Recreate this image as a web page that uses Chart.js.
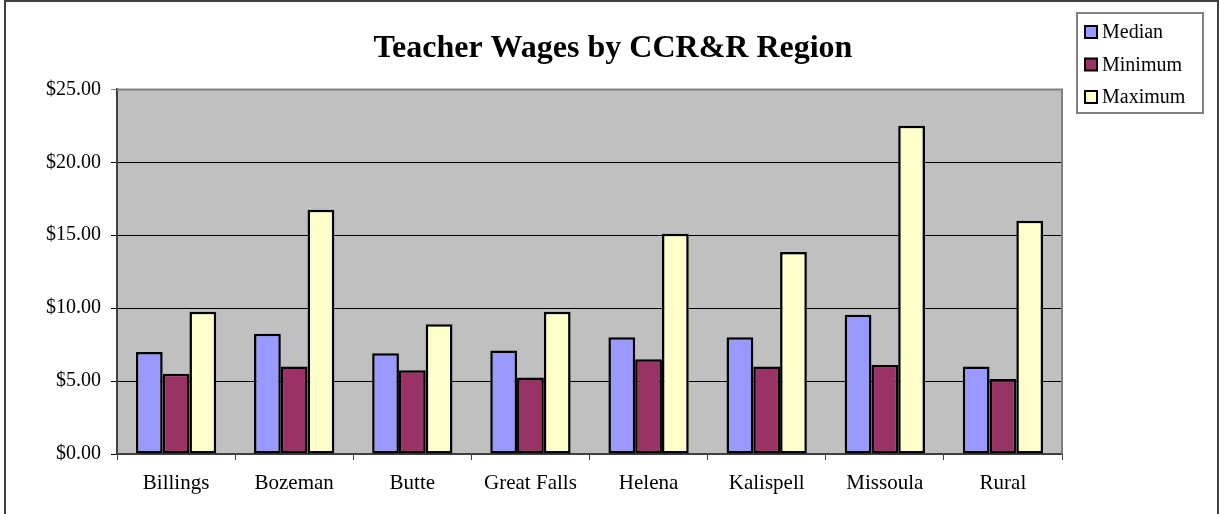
<!DOCTYPE html>
<html>
<head>
<meta charset="utf-8">
<script src="https://cdn.jsdelivr.net/npm/chart.js@4/dist/chart.umd.min.js"></script>
<style>
  html, body { margin: 0; padding: 0; background: #fff; }
  #wrap { width: 1220px; height: 514px; }
</style>
</head>
<body>
<div id="wrap"><canvas id="wages" width="1220" height="514"></canvas></div>
<script>
// ===== DATA =====
const regions = ["Billings", "Bozeman", "Butte", "Great Falls", "Helena", "Kalispell", "Missoula", "Rural"];
const median  = [7.00, 8.25, 6.90, 7.10, 8.00, 8.00, 9.55, 6.00];
const minimum = [5.50, 6.00, 5.75, 5.25, 6.50, 6.00, 6.10, 5.15];
const maximum = [9.75, 16.75, 8.90, 9.75, 15.10, 13.85, 22.50, 16.00];
const yTicks  = [0, 5, 10, 15, 20, 25];

const serif = "'Liberation Serif', 'Times New Roman', serif";

// plot background, outer frame, plot border
const frame = {
    id: 'frame',
    beforeDraw(chart) {
        const { ctx, chartArea: a } = chart;
        ctx.save();
        ctx.fillStyle = '#c0c0c0';
        ctx.fillRect(a.left, a.top, a.right - a.left, a.bottom - a.top);
        ctx.restore();
    },
    afterDraw(chart) {
        const { ctx, chartArea: a } = chart;
        ctx.save();
        // top / right border of plot
        ctx.strokeStyle = '#808080';
        ctx.lineWidth = 2;
        ctx.beginPath();
        ctx.moveTo(a.left, a.top);
        ctx.lineTo(a.right, a.top);
        ctx.lineTo(a.right, a.bottom);
        ctx.stroke();
        // outer frame
        ctx.strokeStyle = '#404040';
        ctx.lineWidth = 2;
        ctx.strokeRect(5, 1, 1213, 530);
        ctx.restore();
    }
};

// legend box drawn from the datasets
const boxLegend = {
    id: 'boxLegend',
    afterDraw(chart) {
        const ctx = chart.ctx;
        ctx.save();
        ctx.strokeStyle = '#808080';
        ctx.lineWidth = 2;
        ctx.fillStyle = '#fff';
        ctx.fillRect(1077, 13, 126, 100);
        ctx.strokeRect(1077, 13, 126, 100);
        ctx.font = "20px " + serif;
        ctx.textBaseline = 'middle';
        chart.data.datasets.forEach((ds, i) => {
            const cy = 32 + i * 32.5;
            ctx.fillStyle = ds.backgroundColor;
            ctx.fillRect(1085, cy - 6, 12, 12);
            ctx.strokeStyle = '#000';
            ctx.lineWidth = 2;
            ctx.strokeRect(1085, cy - 6, 12, 12);
            ctx.fillStyle = '#000';
            ctx.fillText(ds.label, 1102, cy + 1);
        });
        ctx.restore();
    }
};

function makeSet(label, data, color) {
    return {
        label: label,
        data: data,
        backgroundColor: color,
        borderColor: '#000',
        borderWidth: 2.5,
        borderSkipped: false,
        categoryPercentage: 0.68,
        barPercentage: 1.0
    };
}

new Chart(document.getElementById('wages'), {
    type: 'bar',
    data: {
        labels: regions,
        datasets: [
            makeSet('Median', median, '#9999ff'),
            makeSet('Minimum', minimum, '#993366'),
            makeSet('Maximum', maximum, '#ffffcc')
        ]
    },
    options: {
        responsive: false,
        animation: false,
        layout: { padding: { left: 6, right: 0, top: 0, bottom: 0 } },
        plugins: {
            legend: { display: false },
            tooltip: { enabled: false },
            title: {
                display: true,
                text: 'Teacher Wages by CCR&R Region',
                color: '#000',
                font: { family: serif, size: 32, weight: 'bold', lineHeight: 1.2 },
                padding: { top: 30, bottom: 21 }
            }
        },
        scales: {
            x: {
                grid: { offset: true, drawOnChartArea: false, drawTicks: true, tickLength: 6, color: '#404040', lineWidth: 1 },
                border: { color: '#404040', width: 2 },
                ticks: { color: '#000', font: { family: serif, size: 21 }, padding: 11, maxRotation: 0 },
                afterFit(s) { s.height = 60; }
            },
            y: {
                min: 0,
                max: 25,
                afterBuildTicks(s) { s.ticks = yTicks.map(v => ({ value: v })); },
                grid: {
                    color: ctx => (ctx.tick && ctx.tick.value === 25) ? '#808080' : '#000',
                    lineWidth: 1,
                    tickLength: 6,
                    drawTicks: true
                },
                border: { color: '#404040', width: 2 },
                ticks: {
                    color: '#000',
                    font: { family: serif, size: 20 },
                    padding: 10,
                    callback: v => '$' + Number(v).toFixed(2)
                },
                afterFit(s) { s.width = 111; }
            },
            // empty right-side axis that reserves the legend column
            yRight: {
                position: 'right',
                min: 0,
                max: 25,
                grid: { drawOnChartArea: false, drawTicks: false },
                border: { display: false },
                ticks: { display: false },
                afterFit(s) { s.width = 158; }
            }
        }
    },
    plugins: [frame, boxLegend]
});
</script>
</body>
</html>
